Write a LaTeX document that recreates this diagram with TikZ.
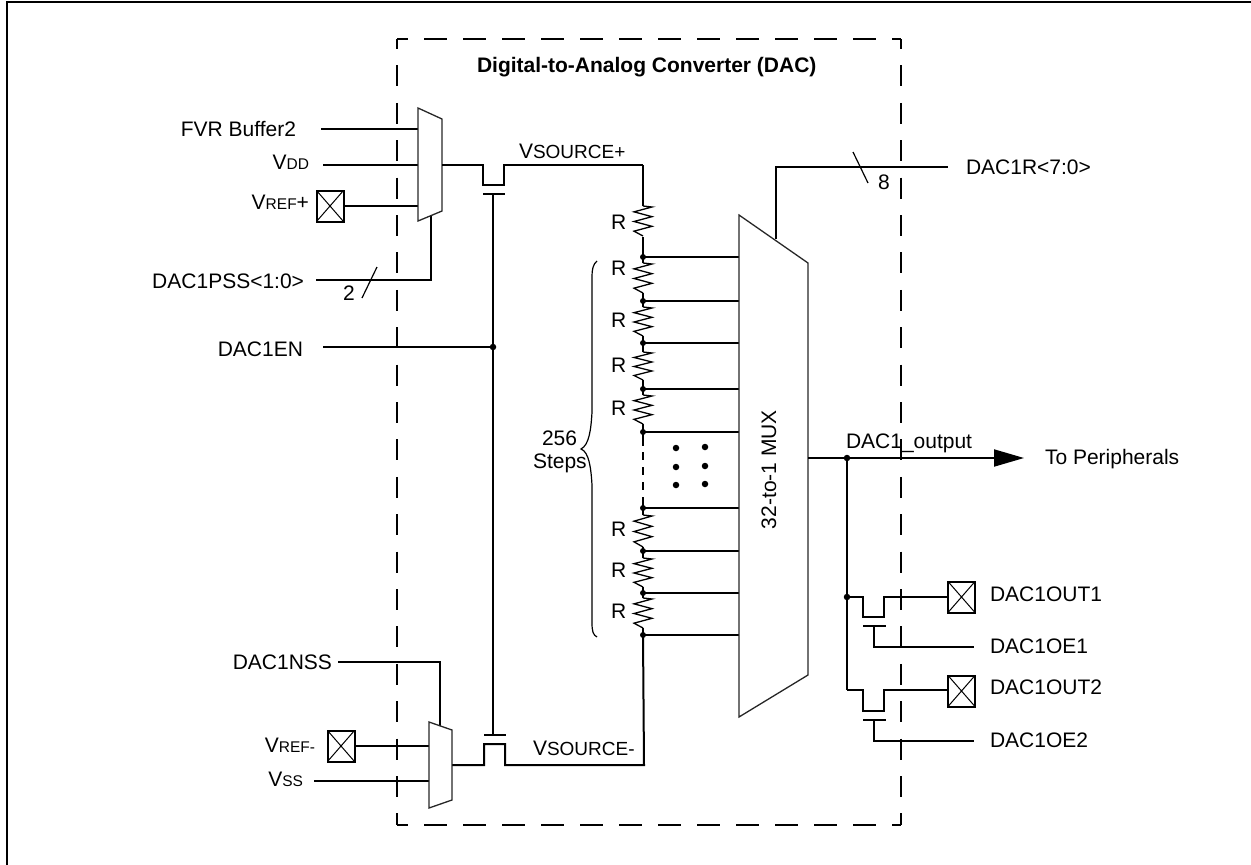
\documentclass[tikz,border=0pt]{standalone}
\usepackage{fontspec}
\setmainfont{Liberation Sans}
\usetikzlibrary{arrows.meta,calc}
\newcommand{\smv}[1]{{\fontsize{15.5}{18}\selectfont #1}}
\newcommand{\mdv}[1]{{\fontsize{19}{22}\selectfont #1}}
\newcommand{\rzig}[2]{\pgfmathsetmacro\hh{(#2-#1-1)/6}%
  \draw[zig] (643,#1) -- ++(9,1) -- ++(-18,\hh) -- ++(18,\hh) -- ++(-18,\hh) -- ++(18,\hh) -- ++(-18,\hh) -- ++(9,\hh);}
\tikzset{
  wire/.style={line width=2pt,line join=miter},
  zig/.style={line width=1.3pt,line join=miter},
  thinl/.style={line width=1.2pt},
  muxo/.style={line width=1.3pt,draw=black!85,line join=miter},
  lab/.style={inner sep=0pt,outer sep=0pt,anchor=base west,font=\fontsize{21}{25}\selectfont},
  labr/.style={inner sep=0pt,outer sep=0pt,anchor=base east,font=\fontsize{21}{25}\selectfont},
  dot/.style={circle,fill=black,inner sep=0pt,minimum size=6.5pt},
  tap/.style={circle,fill=black,inner sep=0pt,minimum size=6pt},
  pad/.style={draw,line width=2pt,fill=white,inner sep=0pt,minimum width=27pt,minimum height=31pt,
    path picture={\draw[line width=1pt] (path picture bounding box.north west)--(path picture bounding box.south east)
      (path picture bounding box.south west)--(path picture bounding box.north east);}},
  dashh/.style={line width=2pt,dash pattern=on 23pt off 16pt,dash phase=12pt},
  dashv/.style={line width=2pt,dash pattern=on 21pt off 16.4pt,dash phase=11pt},
}
\begin{document}
\begin{tikzpicture}[x=1pt,y=-1pt]
\useasboundingbox (0,0) rectangle (1251,865);
% outer frame (top and left only)
\coordinate (frameA) at (7,865); \coordinate (frameB) at (7,2); \coordinate (frameC) at (1251,2);
\draw[line width=2.2pt] (frameA) -- (frameB) -- (frameC);
% dashed DAC box
\coordinate (bTL) at (397,39); \coordinate (bTR) at (901,39); \coordinate (bBL) at (397,825); \coordinate (bBR) at (901,825);
\draw[dashh] (bTL) -- (bTR);
\draw[dashh] (bBL) -- (bBR);
\draw[dashv] (bTL) -- (bBL);
\draw[dashv] (bTR) -- (bBR);
\node[lab,font=\fontsize{21}{25}\selectfont\bfseries] (title) at (477,72) {Digital-to-Analog Converter (DAC)};

% upper source mux
\coordinate (mu1) at (418,108); \coordinate (mu2) at (442,119); \coordinate (mu3) at (442,211); \coordinate (mu4) at (418,221);
\node[labr] (lfvr) at (296,136) {FVR Buffer2};
\node[labr] (lvdd) at (309,169) {V\smv{DD}};
\node[labr] (lvrefp) at (309,209) {V\smv{REF}+};
\node[pad] (padp) at (330,206) {};
\node[labr] (lpss) at (304,288) {DAC1PSS<1:0>};
\coordinate (sfvr) at (321,129); \coordinate (svdd) at (323,165); \coordinate (spss) at (316,280);
\coordinate (muSel) at (431,216);
\draw[wire] (sfvr) -- (sfvr -| mu1);
\draw[wire] (svdd) -- (svdd -| mu1);
\draw[wire] (padp.east) -- (padp.east -| mu1);
\draw[wire] (spss) -| (muSel);
\draw[muxo] (mu1) -- (mu2) -- (mu3) -- (mu4) -- cycle;
\coordinate (s2a) at (362,298); \coordinate (s2b) at (377,267);
\draw[thinl] (s2a) -- (s2b);
\node[lab] (n2) at (343,300) {2};

% upper switch to ladder
\coordinate (uOut) at (442,165); \coordinate (uTop) at (643,165);
\draw[wire] (uOut) -- (483,165) -- (483,185) -- (504,185) -- (504,165) -- (uTop);
\coordinate (ug) at (493,194);
\draw[wire] (483,194) -- (505,194);
\coordinate (lg) at (493,735);
\draw[wire] (484,735) -- (506,735);
\draw[wire] (ug) -- (lg);
\node[lab] (lvsp) at (519,158) {V\mdv{SOURCE+}};
\node[labr] (len) at (303,356) {DAC1EN};
\node[dot] (enj) at (493,347) {};
\coordinate (sen) at (323,347);
\draw[wire] (sen) -- (enj);

% main mux
\coordinate (M1) at (739,215); \coordinate (M2) at (808,263); \coordinate (M3) at (808,675); \coordinate (M4) at (739,717);

% ladder
\node[tap] (t1) at (643,257) {};
\node[tap] (t2) at (643,301) {};
\node[tap] (t3) at (643,343) {};
\node[tap] (t4) at (643,389) {};
\node[tap] (t5) at (643,432) {};
\node[tap] (t6) at (643,508) {};
\node[tap] (t7) at (643,551) {};
\node[tap] (t8) at (643,593) {};
\node[tap] (t9) at (643,635) {};
\foreach \t in {t1,t2,t3,t4,t5,t6,t7,t8,t9}{\draw[wire] (\t.center) -- (\t.center -| M1);}
\draw[wire] (uTop) -- (643,206);
\rzig{206}{236}
\draw[wire] (643,237) -- (t1.center) -- (643,263);
\rzig{263}{293}
\draw[wire] (643,293) -- (t2.center) -- (643,307);
\rzig{307}{336}
\draw[wire] (643,336) -- (t3.center) -- (643,352);
\rzig{352}{380}
\draw[wire] (643,380) -- (t4.center) -- (643,395);
\rzig{395}{424}
\draw[wire] (643,424) -- (t5.center) -- (643,446);
\draw[wire,dash pattern=on 8pt off 7pt] (643,452) -- (643,497);
\draw[wire] (643,497) -- (t6.center) -- (643,515);
\rzig{515}{547}
\draw[wire] (643,547) -- (t7.center) -- (643,558);
\rzig{558}{587}
\draw[wire] (643,587) -- (t8.center) -- (643,598);
\rzig{598}{628}
\draw[wire] (643,628) -- (t9.center);
\foreach \yy/\nm in {229/ra,275/rb,327/rc,372/rd,415/re,536/rf,577/rg,618/rh}{\node[lab] (\nm) at (611,\yy) {R};}
% continuation down to lower switch
\coordinate (lBot) at (644,765); \coordinate (lOut) at (452,765);
\draw[wire] (t9.center) -- (lBot) -- (505,765) -- (505,744) -- (484,744) -- (484,765) -- (lOut);
\node[lab] (lvsm) at (533,755) {V\mdv{SOURCE-}};

% brace
\coordinate (brT) at (597,261); \coordinate (brB) at (597,637); \coordinate (brTip) at (581,449);
\draw[thinl] (brT) .. controls (593,264) and (592,270) .. (592,276) -- (592,412)
  .. controls (591,430) and (589,445) .. (brTip)
  .. controls (589,452) and (591,468) .. (592,485) -- (592,623)
  .. controls (592,631) and (593,635) .. (brB);
\node[lab] (n256) at (542,445) {256};
\node[lab] (nsteps) at (533,468) {Steps};
% dots
\foreach \px/\py/\nm in {676/448/da,705/447/db,676/467/dc,705/466/dd,676/485/de,705/484/df}{\node[dot] (\nm) at (\px,\py) {};}

% main mux body
\coordinate (mSel) at (776,239); \coordinate (mSelTop) at (776,167); \coordinate (r8) at (948,167);
\draw[wire] (mSel) -- (mSelTop) -- (r8);
\draw[muxo] (M1) -- (M2) -- (M3) -- (M4) -- cycle;
\coordinate (s8a) at (853,152); \coordinate (s8b) at (868,183);
\draw[thinl] (s8a) -- (s8b);
\node[lab] (n8) at (878,189) {8};
\node[lab] (lr) at (966,174) {DAC1R<7:0>};
\node[lab,rotate=90] (lmux) at (776,529) {32-to-1 MUX};

% output
\coordinate (oStart) at (808,458); \coordinate (oEnd) at (1024,458);
\node[dot] (oj) at (847,458) {};
\draw[wire,-{Triangle[length=30pt,width=17pt]}] (oStart) -- (oEnd);
\node[lab] (lout) at (846,448) {DAC1\_output};
\node[lab] (lper) at (1045,464) {To Peripherals};
\node[dot] (oj2) at (847,597) {};
\coordinate (oBot) at (847,690);
\draw[wire] (oj) -- (oBot);
% output pads and switches
\node[pad] (pad1) at (961.5,597) {};
\node[pad] (pad2) at (961.5,691) {};
\draw[wire] (oj2) -- (863,597) -- (863,617) -- (884,617) -- (884,597) -- (pad1.west);
\draw[wire] (oBot) -- (863,690) -- (863,711) -- (884,711) -- (884,690) -- (pad2.west |- oBot);
\draw[wire] (863,626) -- (886,626);
\draw[wire] (863,720) -- (886,720);
\coordinate (oe1) at (974,647); \coordinate (oe2) at (974,741);
\draw[wire] (874,626) |- (oe1);
\draw[wire] (874,720) |- (oe2);
\node[lab] (lo1) at (990,601) {DAC1OUT1};
\node[lab] (le1) at (990,653) {DAC1OE1};
\node[lab] (lo2) at (990,694) {DAC1OUT2};
\node[lab] (le2) at (990,747) {DAC1OE2};

% lower source mux
\coordinate (ml1) at (429,722); \coordinate (ml2) at (452,730); \coordinate (ml3) at (452,800); \coordinate (ml4) at (429,808);
\node[labr] (lnss) at (332,669) {DAC1NSS};
\node[labr] (lvrefm) at (315,752) {V\smv{REF-}};
\node[labr] (lvss) at (303,786) {V\smv{SS}};
\node[pad] (padm) at (341,746) {};
\coordinate (snss) at (338,662); \coordinate (mlSel) at (440,726); \coordinate (svss) at (314,781);
\draw[wire] (snss) -| (mlSel);
\draw[wire] (padm.east) -- (padm.east -| ml1);
\draw[wire] (svss) -- (svss -| ml1);
\draw[muxo] (ml1) -- (ml2) -- (ml3) -- (ml4) -- cycle;
\end{tikzpicture}
\end{document}
